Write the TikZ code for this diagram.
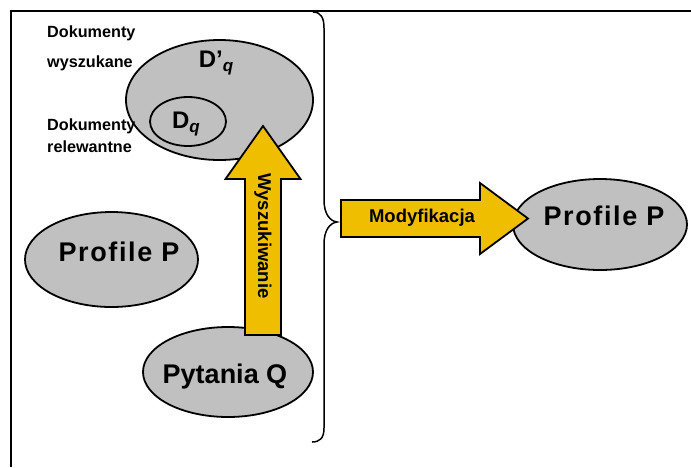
\documentclass[tikz,border=0pt]{standalone}
\usepackage{fontspec}
\setmainfont{Liberation Sans}
\usetikzlibrary{shapes.geometric}
\definecolor{ellgray}{RGB}{192,192,192}
\definecolor{arrowyellow}{RGB}{240,190,0}
\begin{document}
\begin{tikzpicture}[x=1pt,y=-1pt,
  ell/.style={ellipse, draw=black, line width=1.8pt, fill=ellgray, inner sep=0pt},
  bigtxt/.style={inner sep=0pt, font=\fontsize{27}{27}\selectfont\bfseries},
  smalltxt/.style={inner sep=0pt, anchor=west, font=\fontsize{16.2}{17}\selectfont\bfseries},
  arrowtxt/.style={inner sep=0pt, font=\fontsize{18.5}{19}\selectfont\bfseries},
  fatarrow/.style={draw=black, line width=1.8pt, fill=arrowyellow, line join=miter},
  frame/.style={draw=black, line width=2pt},
  bracepath/.style={draw=black, line width=1.5pt}]
\useasboundingbox (0,0) rectangle (691,467);
% frame
\draw[frame] (11,467) -- (11,11) -- (691,11);
% brace
\draw[bracepath] (313,12) .. controls (321,12) and (324,18) .. (324,28)
  -- (324,200) .. controls (324,214) and (330,221) .. (337,222)
  .. controls (330,223) and (324,230) .. (324,244)
  -- (324,428) .. controls (324,438) and (320,442) .. (312,442);
% ellipses
\node[ell, minimum width=187pt, minimum height=120pt] (dq2) at (219.5,100) {};
\node[ell, minimum width=76pt, minimum height=49pt] (dq) at (188,121.5) {};
\node[ell, minimum width=173pt, minimum height=95pt] (profL) at (111.5,259.5) {};
\node[ell, minimum width=170pt, minimum height=90pt] (pyt) at (228,372) {};
\node[ell, minimum width=174pt, minimum height=91pt] (profR) at (600,224.5) {};
% ellipse texts
\node[inner sep=0pt, font=\fontsize{24}{24}\selectfont\bfseries] (dq2t) at (216,63) {D’\raisebox{-0.2em}{\fontsize{17}{17}\selectfont\itshape q}};
\node[inner sep=0pt, font=\fontsize{24}{24}\selectfont\bfseries] (dqt) at (186,124) {D\raisebox{-0.2em}{\fontsize{17}{17}\selectfont\itshape q}};
\node[bigtxt] (profLt) at (119,252) {\addfontfeatures{LetterSpace=6}Profile P};
\node[bigtxt] (pytt) at (225,377) {Pytania Q};
\node[bigtxt] (profRt) at (604,216) {\addfontfeatures{LetterSpace=6}Profile P};
% side labels
\node[smalltxt] (l1) at (47,33) {Dokumenty};
\node[smalltxt] (l2) at (47,63) {wyszukane};
\node[smalltxt] (l3) at (47,126) {Dokumenty};
\node[smalltxt] (l4) at (47,147) {relewantne};
% arrows
\draw[fatarrow] (245,335) -- (245,179) -- (225.5,179) -- (263,126) -- (300.5,179) -- (281,179) -- (281,335) -- cycle;
\node[arrowtxt, rotate=-90] (wysz) at (263,236) {Wyszukiwanie};
\draw[fatarrow] (341,200) -- (480,200) -- (480,183) -- (528,218.5) -- (480,254) -- (480,237) -- (341,237) -- cycle;
\node[arrowtxt] (mod) at (422,218) {Modyfikacja};
\end{tikzpicture}
\end{document}
